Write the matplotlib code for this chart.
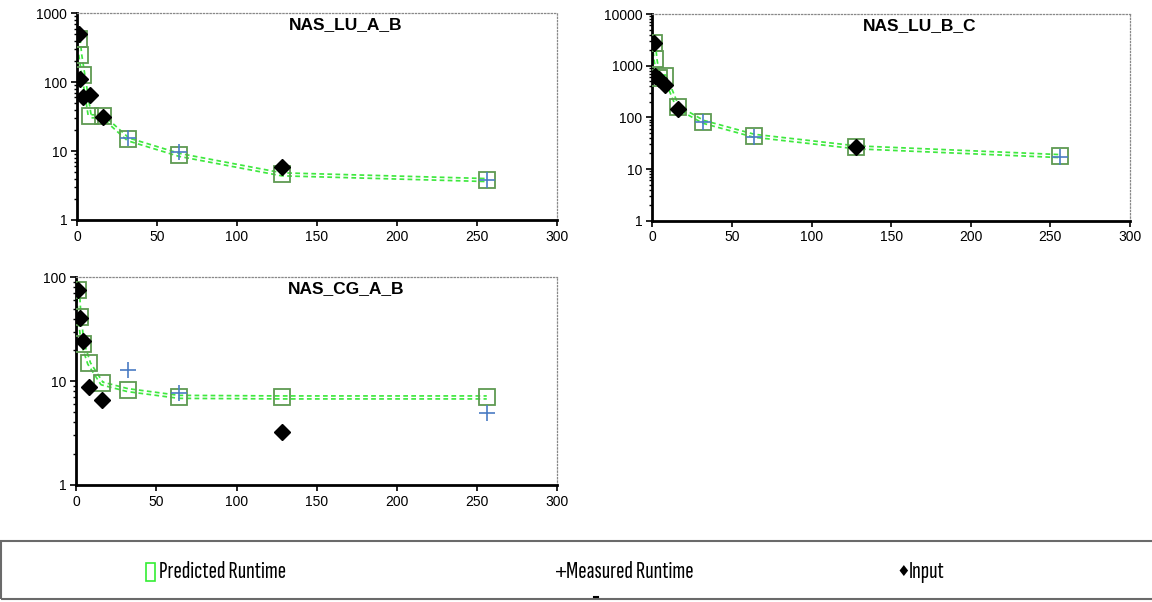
import numpy as np
import matplotlib.pyplot as plt
import matplotlib
from matplotlib.patches import Rectangle
from matplotlib.lines import Line2D
from matplotlib.ticker import FixedLocator, FixedFormatter, LogLocator, NullFormatter

matplotlib.rcParams['font.family'] = ['Liberation Sans', 'DejaVu Sans']

# # datos
procs = [1, 2, 4, 8, 16, 32, 64, 128, 256]

lu_ab_pred = [430, 252, 126, 32, 32, 14.8, 8.8, 4.6, 3.8]
lu_ab_meas_x = [32, 64, 256]
lu_ab_meas = [15.3, 9.8, 3.8]
lu_ab_in_x = [1, 2, 4, 8, 16, 128]
lu_ab_in = [508, 110, 61, 65, 31, 5.9]

lu_bc_pred = [2700, 1325, 570, 620, 156, 82, 44, 26.3, 17.8]
lu_bc_meas_x = [32, 64, 256]
lu_bc_meas = [82, 41, 17.3]
lu_bc_in_x = [1, 2, 4, 8, 16, 128]
lu_bc_in = [2700, 640, 560, 420, 143, 27]

cg_ab_pred = [76, 41.5, 23, 14.8, 9.5, 8.2, 7.06, 6.97, 6.97]
cg_ab_meas_x = [32, 64, 256]
cg_ab_meas = [12.8, 7.7, 4.96]
cg_ab_in_x = [1, 2, 4, 8, 16, 128]
cg_ab_in = [76, 41, 24.3, 8.7, 6.56, 3.26]

W, H = 1152, 602
fig = plt.figure(figsize=(W / 100, H / 100), dpi=100)


def panel(rect, title, pred, mx, meas, ix, inp, ymax):
    ax = fig.add_axes(rect)
    # linea del modelo: doble punteada verde
    ax.plot(procs, pred, color='#3fe83f', lw=3.4, ls=(0, (1, 0.7)), zorder=2)
    ax.plot(procs, pred, color='white', lw=0.9, zorder=2.1)
    ax.plot(procs, pred, 's', ms=12, mfc='none', mec='#5e9a52', mew=1.3, zorder=3)
    ax.plot(mx, meas, '+', ms=11, color='#4a7cc4', mew=1.2, zorder=4)
    ax.plot(ix, inp, 'D', ms=8.5, color='black', zorder=5)

    ax.set_yscale('log')
    ax.set_xlim(0, 300)
    ax.set_ylim(1, ymax)
    ax.set_xticks([0, 50, 100, 150, 200, 250, 300])
    dec = [10 ** k for k in range(int(np.log10(ymax)) + 1)]
    ax.yaxis.set_major_locator(FixedLocator(dec))
    ax.yaxis.set_major_formatter(FixedFormatter([str(d) for d in dec]))
    ax.yaxis.set_minor_locator(LogLocator(base=10, subs=np.arange(2, 10)))
    ax.yaxis.set_minor_formatter(NullFormatter())
    ax.tick_params(axis='both', which='major', labelsize=10, length=4, width=1.2, direction='out', pad=3)
    ax.tick_params(axis='y', which='minor', length=2, width=1)

    for s in ['left', 'bottom']:
        ax.spines[s].set_linewidth(2)
        ax.spines[s].set_color('black')
    for s in ['top', 'right']:
        ax.spines[s].set_linewidth(0.9)
        ax.spines[s].set_color('#888888')
        ax.spines[s].set_linestyle(':')

    ax.text(0.56, 0.944, title, transform=ax.transAxes, ha='center', va='center',
            fontsize=12.5, fontweight='bold')
    return ax


panel([77 / W, 1 - 220 / H, 480 / W, 206.7 / H], 'NAS_LU_A_B',
      lu_ab_pred, lu_ab_meas_x, lu_ab_meas, lu_ab_in_x, lu_ab_in, 1000)
panel([652.3 / W, 1 - 220.7 / H, 477.7 / W, 206.7 / H], 'NAS_LU_B_C',
      lu_bc_pred, lu_bc_meas_x, lu_bc_meas, lu_bc_in_x, lu_bc_in, 10000)
panel([76.3 / W, 1 - 485 / H, 481 / W, 207.7 / H], 'NAS_CG_A_B',
      cg_ab_pred, cg_ab_meas_x, cg_ab_meas, cg_ab_in_x, cg_ab_in, 100)

# # leyenda en un recuadro abajo
fig.patches.append(Rectangle((1 / W, 1 - 599 / H), 1.2, 58 / H, transform=fig.transFigure,
                             fill=False, edgecolor='#6a6a6a', lw=1.5))
fig.patches.append(Rectangle((146 / W, 1 - 581 / H), 9 / W, 18 / H, transform=fig.transFigure,
                             fill=False, edgecolor='#33ee33', lw=1.2))
ly = 1 - 572 / H
narrow = ['Sofia Sans Extra Condensed', 'DejaVu Sans']
fig.text(159 / W, ly, 'Predicted Runtime', ha='left', va='center', fontsize=18, family=narrow)
fig.text(555 / W, ly - 0.002, '+', ha='left', va='center', fontsize=15, family='Liberation Sans',
         fontweight='light')
fig.text(566 / W, ly, 'Measured Runtime', ha='left', va='center', fontsize=18, family=narrow)
fig.text(896 / W, ly, '\u2666', ha='left', va='center', fontsize=11, family='DejaVu Sans')
fig.text(909 / W, ly, 'Input', ha='left', va='center', fontsize=18, family=narrow)
fig.lines.append(Line2D([594 / W, 598 / W], [1 - 597 / H, 1 - 597 / H], transform=fig.transFigure,
                        color='black', lw=1.5))

fig.savefig('out.png', dpi=100)
